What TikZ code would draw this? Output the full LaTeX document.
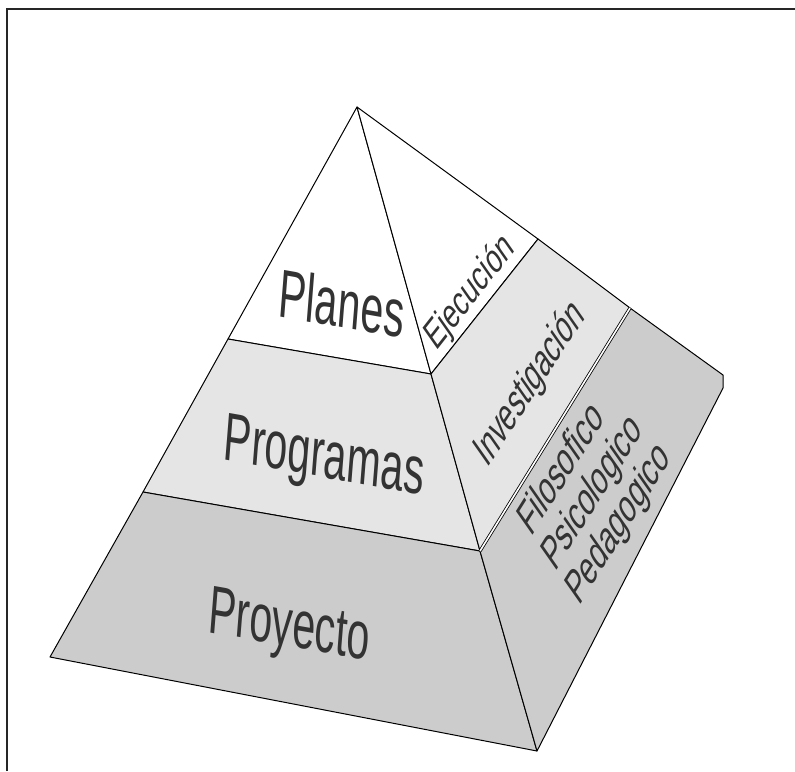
\documentclass[tikz,border=0pt]{standalone}
\usepackage{fontspec}
\setmainfont{Liberation Sans}
\usetikzlibrary{calc}
\tikzset{
        face/.style = {draw, line width=0.5pt, line join=round},
        light/.style = {face, fill=black!10},
        dark/.style = {face, fill=black!20},
        leftlabel/.style = {text=black!80, inner sep=0pt, font=\fontsize{30}{36}\selectfont, cm={0.68,-0.119,0.09,1.13,(0,0)}},
        rightlabel/.style = {text=black!80, inner sep=0pt, align=left, font=\fontsize{20}{20}\selectfont}}

\begin{document}
\begin{tikzpicture}[x=0.5pt, y=-0.5pt]
    \useasboundingbox (0,0) rectangle (795,771);
    % frame
    \draw[line width=1.2pt, black!85] (7,771) -- (7,9) -- (795,9);

    % corners of the pyramid
    \coordinate (apex) at (357,107);
    \coordinate (leftA) at (228,339);
    \coordinate (leftB) at (143,492);
    \coordinate (leftbase) at (50,657);
    \coordinate (ridgeA) at (431,374);
    \coordinate (ridgeB) at (480,551);
    \coordinate (ridgebase) at (537,751);
    \coordinate (outA) at (538,239);
    \coordinate (outB) at (630,308);
    \coordinate (outtop) at (723,375);
    \coordinate (outbot) at (723,388);

    % left face
    \filldraw[face, fill=white] (apex) -- (leftA) -- (ridgeA) -- cycle;
    \filldraw[light] (leftA) -- (ridgeA) -- (ridgeB) -- (leftB) -- cycle;
    \filldraw[dark] (leftB) -- (ridgeB) -- (ridgebase) -- (leftbase) -- cycle;

    % right face
    \filldraw[face, fill=white] (apex) -- (outA) -- (ridgeA) -- cycle;
    \filldraw[light] (outA) -- (outB) -- (ridgeB) -- (ridgeA) -- cycle;
    \filldraw[dark] (outB) -- (outtop) -- (outbot) -- (ridgebase) -- (ridgeB) -- cycle;
    \draw[double, double distance=0.8pt, line width=0.4pt] (outB) -- (ridgeB);

    \node[leftlabel] (planes) at (342,303) {Planes};
    \node[leftlabel] (programas) at (324,461) {Programas};
    \node[leftlabel] (proyecto) at (289,630) {Proyecto};

    \node[rightlabel, cm={0.456,0.583,-0.545,0.778,(0,0)}] (ejecucion) at (470,293) {Ejecución};
    \node[rightlabel, cm={0.420,0.646,-0.602,0.860,(0,0)}] (investigacion) at (530,384) {Investigación};
    \node[rightlabel, cm={0.435,0.695,-0.602,0.860,(0,0)}] (fundamentos) at (595,490) {Filosofico\\Psicologico\\Pedagogico};
\end{tikzpicture}
\end{document}
